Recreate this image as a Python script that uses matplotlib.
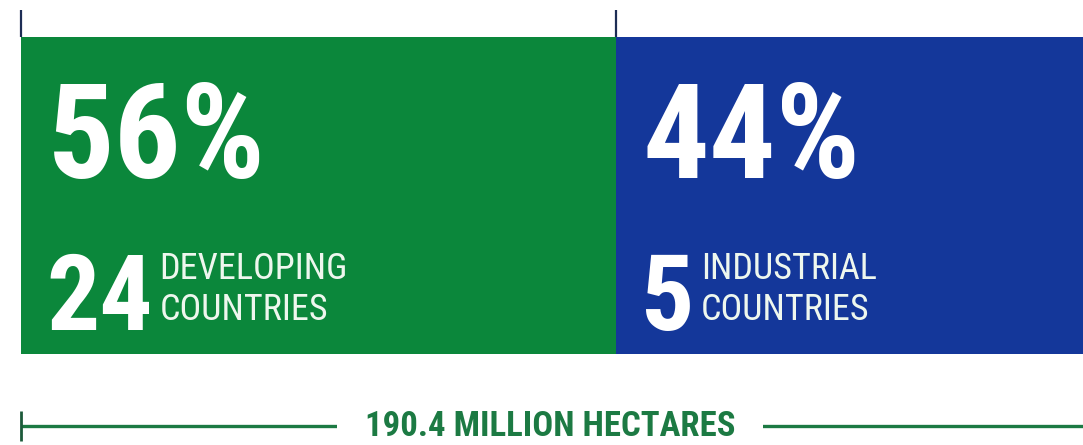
import matplotlib
matplotlib.use("Agg")
import matplotlib.pyplot as plt
from matplotlib import font_manager

# data
groups = ["DEVELOPING\nCOUNTRIES", "INDUSTRIAL\nCOUNTRIES"]
shares = [56, 44]
counts = [24, 5]
colors = ["#0b873b", "#14379a"]
total_label = "190.4 MILLION HECTARES"

# pick the narrowest family we can find
fonts = font_manager.fontManager.ttflist
names = {f.name for f in fonts}
font = "DejaVu Sans"
for cand in ["Roboto Condensed", "Open Sans Condensed", "Liberation Sans Narrow",
             "DejaVu Sans Condensed"]:
    if cand in names:
        font = cand
        break
plt.rcParams["font.family"] = [font, "DejaVu Sans"]
plt.rcParams["font.stretch"] = "condensed"

W, H = 1083, 445
fig = plt.figure(figsize=(W / 100, H / 100), dpi=100)
ax = fig.add_axes([0, 0, 1, 1])
ax.set_axis_off()

# x in percent, y in pixel-like layout units
unit = (W - 21) / 100.0
ax.set_xlim(-21 / unit, 100)
ax.set_ylim(H, 0)

bar_top, bar_bot = 37, 354
left = 0
for share, count, grp, col in zip(shares, counts, groups, colors):
    ax.barh((bar_top + bar_bot) / 2, share, left=left, height=bar_bot - bar_top,
            color=col, edgecolor="none")
    ax.vlines(left, 10, bar_top, color="#1d2d55", lw=1.6)
    x0 = left + 27 / unit
    ax.text(x0, 178, f"{share}%", color="white", fontsize=95, fontweight="black",
            ha="left", va="baseline")
    num = ax.text(x0 - 2 / unit, 330, str(count), color="white", fontsize=76,
                  fontweight="black", ha="left", va="baseline")
    ax.annotate(grp, xy=(1, 0), xycoords=num, xytext=(5, 17), textcoords="offset points",
                color="#eef7ee", fontsize=26, ha="left", va="bottom", linespacing=1.2)
    left += share

# total line
line_y = 426
ax.plot([0, 100], [line_y, line_y], color="#1c7a43", lw=2.4, solid_capstyle="butt")
ax.vlines(0, 411, 441, color="#1c5a3a", lw=2)
ax.text((550 - 21) / unit, line_y + 1, total_label, color="#1c7a43", fontsize=25,
        fontweight="black", ha="center", va="center",
        bbox=dict(boxstyle="square,pad=0.8", facecolor="white", edgecolor="none"))

fig.savefig("out.png", dpi=100, facecolor="white")
